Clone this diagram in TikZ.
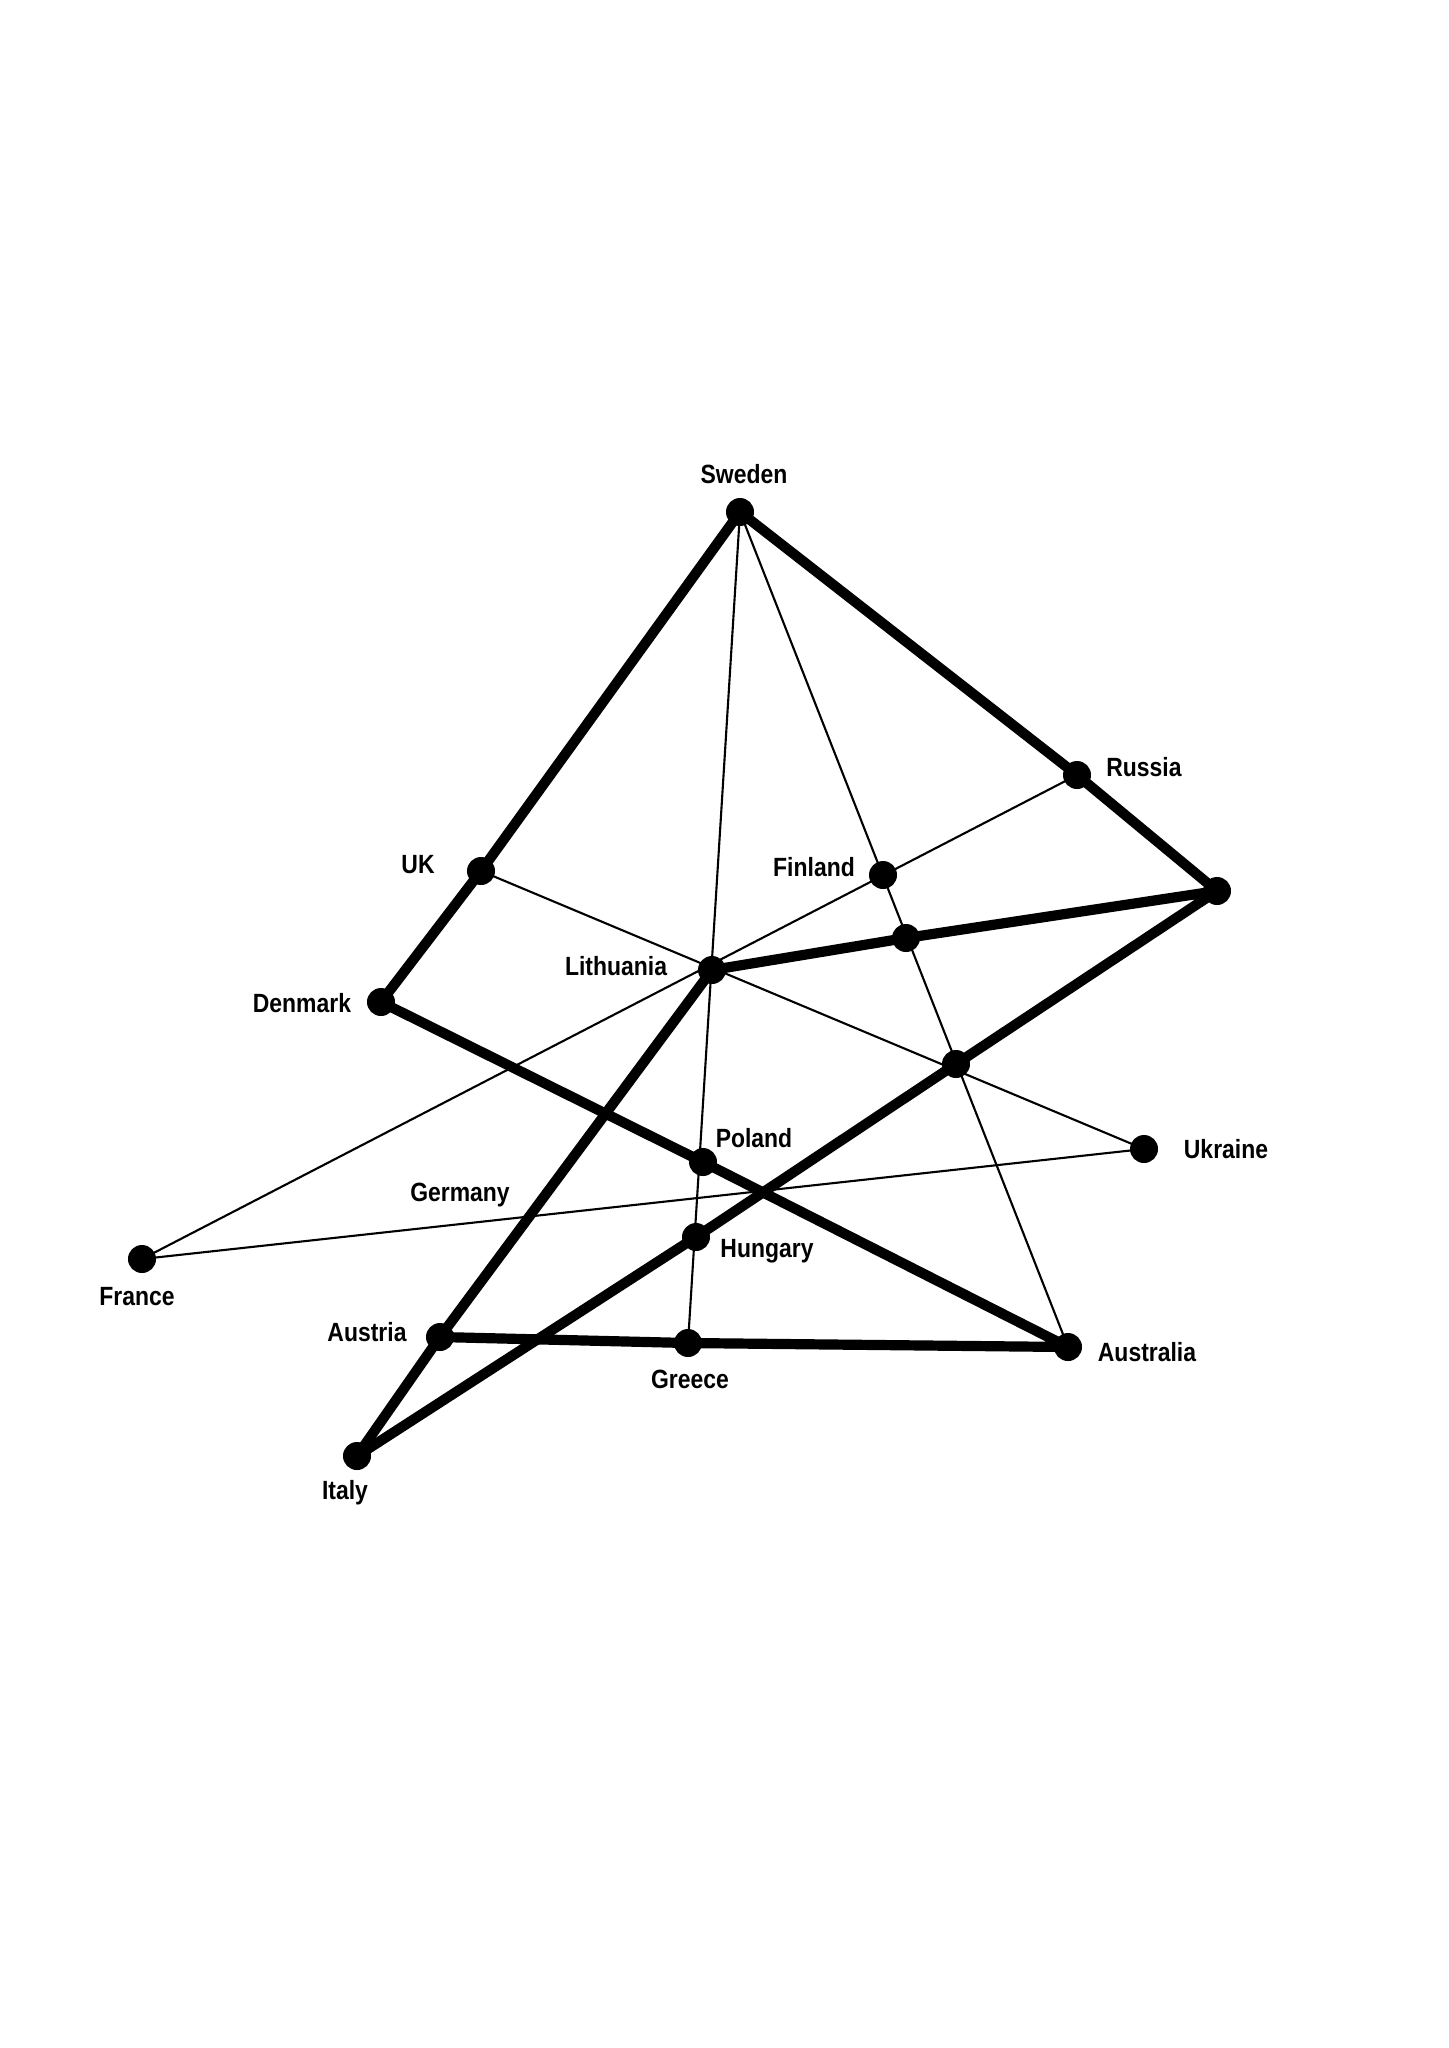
\documentclass[tikz,border=0pt]{standalone}
\usepackage{fontspec}
\newfontfamily\lblfont{Liberation Sans}[FakeStretch=0.87]
\begin{document}
\begin{tikzpicture}[
    x=0.01cm,y=-0.01cm,
    dot/.style={circle,fill=black,inner sep=0pt,minimum size=0.28cm},
    lbl/.style={font={\lblfont\bfseries\fontsize{7.5}{8.5}\selectfont},inner sep=0pt},
    heavy/.style={line width=2.9pt,line join=round,line cap=round},
    light/.style={line width=0.6pt},
    ]
    % Page
    \useasboundingbox (0,0) rectangle (1448,2048);

    % Dots
    \node[dot] (swe) at (740,512) {};
    \node[dot] (rus) at (1077,775) {};
    \node[dot] (tip) at (1217,891) {};
    \node[dot] (uk) at (481,871) {};
    \node[dot] (fin) at (883,875) {};
    \node[dot] (lit) at (712,970) {};
    \node[dot] (m1) at (906,938) {};
    \node[dot] (den) at (381,1002) {};
    \node[dot] (m2) at (956,1064) {};
    \node[dot] (ukr) at (1144,1149) {};
    \node[dot] (pol) at (703,1162) {};
    \node[dot] (hun) at (696,1237) {};
    \node[dot] (fra) at (142,1259) {};
    \node[dot] (aut) at (440,1337) {};
    \node[dot] (gre) at (688,1343) {};
    \node[dot] (aus) at (1068,1347) {};
    \node[dot] (ita) at (357,1456) {};

    % Names
    \node[lbl] (swe-t) at (744,474) {Sweden};
    \node[lbl] (rus-t) at (1144,767) {Russia};
    \node[lbl] (uk-t) at (418,865) {UK};
    \node[lbl] (fin-t) at (814,867) {Finland};
    \node[lbl] (lit-t) at (616,966) {Lithuania};
    \node[lbl] (den-t) at (302,1003) {Denmark};
    \node[lbl] (ukr-t) at (1226,1149) {Ukraine};
    \node[lbl] (pol-t) at (754,1138) {Poland};
    \node[lbl] (ger-t) at (460,1195) {Germany};
    \node[lbl] (hun-t) at (767,1251) {Hungary};
    \node[lbl] (fra-t) at (137,1297) {France};
    \node[lbl] (aut-t) at (367,1332) {Austria};
    \node[lbl] (gre-t) at (690,1379) {Greece};
    \node[lbl] (aus-t) at (1147,1352) {Australia};
    \node[lbl] (ita-t) at (345,1493) {Italy};

    % Thin lines
    \draw[light] (swe.center) -- (gre.center);
    \draw[light] (swe.center) -- (aus.center);
    \draw[light] (rus.center) -- (fra.center);
    \draw[light] (uk.center) -- (ukr.center);
    \draw[light] (fra.center) -- (ukr.center);

    % Thick lines
    \draw[heavy] (den.center) -- (uk.center) -- (swe.center) -- (rus.center) -- (tip.center);
    \draw[heavy] (den.center) -- (pol.center) -- (aus.center) -- (gre.center) -- (aut.center);
    \draw[heavy] (lit.center) -- (m1.center) -- (tip.center) -- (m2.center) -- (hun.center) -- (ita.center);
    \draw[heavy] (lit.center) -- (aut.center) -- (ita.center);
\end{tikzpicture}
\end{document}
